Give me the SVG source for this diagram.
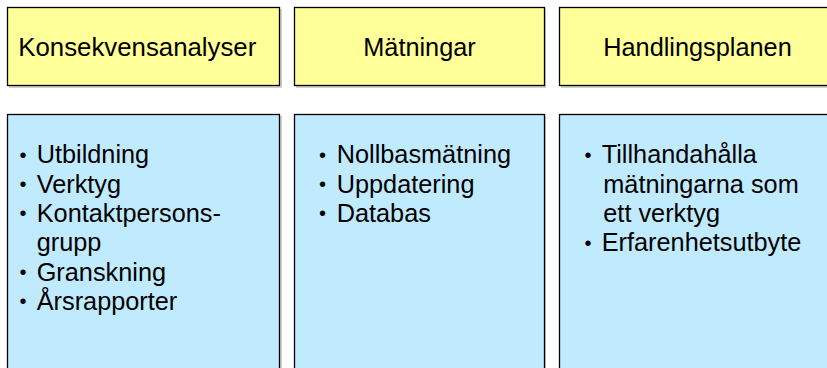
<svg xmlns="http://www.w3.org/2000/svg" width="827" height="368" viewBox="0 0 827 368">
<style>
.shadow{fill:#b0b0b0;opacity:0.6}
.head{fill:#FFFF99;stroke:#000;stroke-width:1.3}
.body{fill:#C0EBFF;stroke:#000;stroke-width:1.3}
text{font-family:"Liberation Sans",Arial,sans-serif;font-size:25.3px;fill:#000}
.b{font-size:20px}
</style>
<rect width="827" height="368" fill="#fff"/>
<g id="head1">
<rect class="shadow" x="9" y="9" width="273" height="79"/>
<rect class="head" x="7.5" y="7.5" width="272" height="78"/>
<text x="18.3" y="56" textLength="238" lengthAdjust="spacingAndGlyphs">Konsekvensanalyser</text>
</g>
<g id="head2">
<rect class="shadow" x="296" y="9" width="250" height="79"/>
<rect class="head" x="294.5" y="7.5" width="250" height="78"/>
<text x="419.5" y="56" text-anchor="middle">Mätningar</text>
</g>
<g id="head3">
<rect class="shadow" x="561" y="9" width="280" height="79"/>
<rect class="head" x="559.5" y="7.5" width="280" height="78"/>
<text x="697.5" y="55.5" text-anchor="middle">Handlingsplanen</text>
</g>
<g id="body1">
<rect class="shadow" x="9" y="116" width="273" height="270"/>
<rect class="body" x="7.5" y="114.5" width="272" height="270"/>
<text class="b" x="19.5" y="161.5">•</text><text x="36.7" y="163.3">Utbildning</text>
<text class="b" x="19.5" y="190.9">•</text><text x="36.7" y="192.7">Verktyg</text>
<text class="b" x="19.5" y="220.2">•</text><text x="36.7" y="222">Kontaktpersons-</text>
<text x="36.7" y="251.3">grupp</text>
<text class="b" x="19.5" y="278.9">•</text><text x="36.7" y="280.7">Granskning</text>
<text class="b" x="19.5" y="308.2">•</text><text x="36.7" y="310">Årsrapporter</text>
</g>
<g id="body2">
<rect class="shadow" x="296" y="116" width="250" height="270"/>
<rect class="body" x="294.5" y="114.5" width="250" height="270"/>
<text class="b" x="319" y="161.5">•</text><text x="336.7" y="163.3">Nollbasmätning</text>
<text class="b" x="319" y="190.9">•</text><text x="336.7" y="192.7">Uppdatering</text>
<text class="b" x="319" y="220.2">•</text><text x="336.7" y="222">Databas</text>
</g>
<g id="body3">
<rect class="shadow" x="561" y="116" width="280" height="270"/>
<rect class="body" x="559.5" y="114.5" width="280" height="270"/>
<text class="b" x="584.5" y="161.5">•</text><text x="601.7" y="163.3">Tillhandahålla</text>
<text x="603.3" y="192.7">mätningarna som</text>
<text x="603.3" y="222">ett verktyg</text>
<text class="b" x="584.5" y="249.5">•</text><text x="601.7" y="251.3">Erfarenhetsutbyte</text>
</g>
<g id="connectors"/>
</svg>
